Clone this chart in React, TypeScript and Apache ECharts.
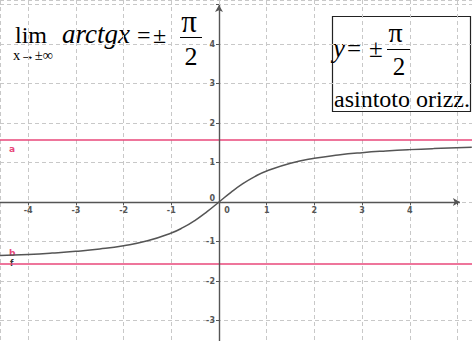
import React, { useEffect, useRef } from "react";
import * as echarts from "echarts";

// Curve f(x) = arctg x
const curveX = [-4.59, -4, -3.5, -3, -2.5, -2, -1.5, -1, -0.75, -0.5, -0.25, 0, 0.25, 0.5, 0.75, 1, 1.5, 2, 2.5, 3, 3.5, 4, 4.5, 5.3];
const curveY = [-1.355, -1.326, -1.292, -1.249, -1.19, -1.107, -0.983, -0.785, -0.644, -0.464, -0.245, 0, 0.245, 0.464, 0.644, 0.785, 0.983, 1.107, 1.19, 1.249, 1.292, 1.326, 1.352, 1.384];
// Horizontal asymptotes a and b
const asymptoteNames = ["a", "b"];
const asymptoteValues = [1.5708, -1.5708];
// Axis extents and labelled tick range
const xRange = [-4.591, 5.304];
const yRange = [-3.519, 5.114];
const maxLabel = 4;
const xArrowEnd = 5.05;
const yArrowEnd = 4.99;

const W = 472;
const H = 341;
const SERIF = "'Liberation Serif', 'Times New Roman', serif";
const SANS = "'DejaVu Sans', sans-serif";

function t(text: string, x: number, baseline: number, size: number, opts: any = {}) {
  return {
    type: "text",
    x,
    y: baseline - 0.34 * size,
    style: {
      text,
      fill: "#000",
      font: `${opts.italic ? "italic " : ""}${size}px ${SERIF}`,
      lineHeight: Math.round(size * 0.8),
      align: opts.align || "left",
      verticalAlign: "middle",
    },
  };
}

export default function App() {
  const ref = useRef<HTMLDivElement>(null);
  useEffect(() => {
    if (!ref.current) return;
    const chart = echarts.init(ref.current, null, { renderer: "svg" });
    const axisLabelBase = {
      fontSize: 8,
      color: "#555",
      fontWeight: "bold" as const,
      fontFamily: SANS,
    };
    const fmt = (v: number) => {
      if (Math.abs(v - Math.round(v)) > 1e-6) return "";
      const r = Math.round(v);
      if (r > maxLabel) return "";
      if (r === 0) return "{z|0}";
      return String(r);
    };
    // pixel position of the zero lines, derived from the axis extents
    const zeroY = H * (yRange[1] / (yRange[1] - yRange[0]));
    const zeroX = W * (-xRange[0] / (xRange[1] - xRange[0]));
    const asymSeries = asymptoteValues.map((v, i) => ({
      type: "line",
      name: asymptoteNames[i],
      data: [
        [xRange[0], v],
        [xRange[1], v],
      ],
      symbol: "none",
      lineStyle: { color: "#e8477a", width: 1.5 },
      silent: true,
      z: 3,
    }));
    chart.setOption({
      animation: false,
      grid: { left: 0, right: 0, top: 0, bottom: 0, containLabel: false },
      xAxis: {
        type: "value",
        min: xRange[0],
        max: xRange[1],
        splitNumber: 10,
        position: "bottom",
        offset: -(H - zeroY),
        axisLine: { show: false, onZero: false },
        axisTick: { show: true, length: 3, lineStyle: { color: "#555" } },
        axisLabel: {
          ...axisLabelBase,
          margin: 4,
          showMinLabel: false,
          showMaxLabel: false,
          formatter: fmt,
          rich: { z: { ...axisLabelBase, padding: [0, 0, 0, 16] } },
        },
        splitLine: { show: true, lineStyle: { color: "#c8c8c8", type: [4, 3], width: 1 } },
      },
      yAxis: {
        type: "value",
        min: yRange[0],
        max: yRange[1],
        splitNumber: 9,
        position: "left",
        offset: -zeroX,
        axisLine: { show: false, onZero: false },
        axisTick: { show: true, length: 3, lineStyle: { color: "#555" } },
        axisLabel: {
          ...axisLabelBase,
          margin: 4,
          showMinLabel: false,
          showMaxLabel: false,
          formatter: fmt,
          rich: { z: { ...axisLabelBase, padding: [0, 0, 8, 0] } },
        },
        splitLine: { show: true, lineStyle: { color: "#c8c8c8", type: [4, 3], width: 1 } },
      },
      series: [
        ...asymSeries,
        {
          type: "line",
          name: "f",
          data: curveX.map((x, i) => [x, curveY[i]]),
          symbol: "none",
          smooth: true,
          lineStyle: { color: "#555", width: 1.5 },
          silent: true,
          z: 4,
          markLine: {
            silent: true,
            symbol: ["none", "arrow"],
            symbolSize: [6, 7],
            label: { show: false },
            lineStyle: { color: "#555", width: 1.4, type: "solid" },
            data: [
              [{ coord: [xRange[0], 0] }, { coord: [xArrowEnd, 0] }],
              [{ coord: [0, yRange[0]] }, { coord: [0, yArrowEnd] }],
            ],
          },
        },
      ],
      graphic: [
        // object labels
        { type: "text", left: 9, top: 144, style: { text: "a", fill: "#e8477a", font: `bold 9px ${SANS}` } },
        { type: "text", left: 9, top: 248, style: { text: "b", fill: "#e8477a", font: `bold 9px ${SANS}` } },
        { type: "text", left: 10, top: 259, style: { text: "f", fill: "#333", font: `bold 8px ${SANS}` } },
        // left formula
        t("lim", 15, 43.5, 24),
        t("x→±∞", 13, 59.5, 14.5),
        t("arctgx", 62, 43.5, 27, { italic: true }),
        t("=", 137, 43.5, 24),
        t("±", 153, 43.5, 24),
        t("π", 189, 32, 31, { align: "center" }),
        { type: "line", shape: { x1: 180, y1: 37.5, x2: 202, y2: 37.5 }, style: { stroke: "#000", lineWidth: 1 } },
        t("2", 191, 65, 26, { align: "center" }),
        // right box
        { type: "rect", shape: { x: 332.5, y: 16.5, width: 138, height: 95 }, style: { fill: "none", stroke: "#222", lineWidth: 1.2 } },
        t("y", 333, 57, 27, { italic: true }),
        t("=", 347, 57, 25),
        t("±", 369, 57, 25),
        t("π", 395.5, 42, 28, { align: "center" }),
        { type: "line", shape: { x1: 387, y1: 49.5, x2: 410, y2: 49.5 }, style: { stroke: "#000", lineWidth: 1 } },
        t("2", 399, 75, 25, { align: "center" }),
        t("asintoto orizz.", 334, 107.5, 24),
      ],
    });
    return () => chart.dispose();
  }, []);
  return (
    <div
      ref={ref}
      style={{ position: "absolute", left: 0, top: 0, width: W, height: H, background: "#fff" }}
    />
  );
}
